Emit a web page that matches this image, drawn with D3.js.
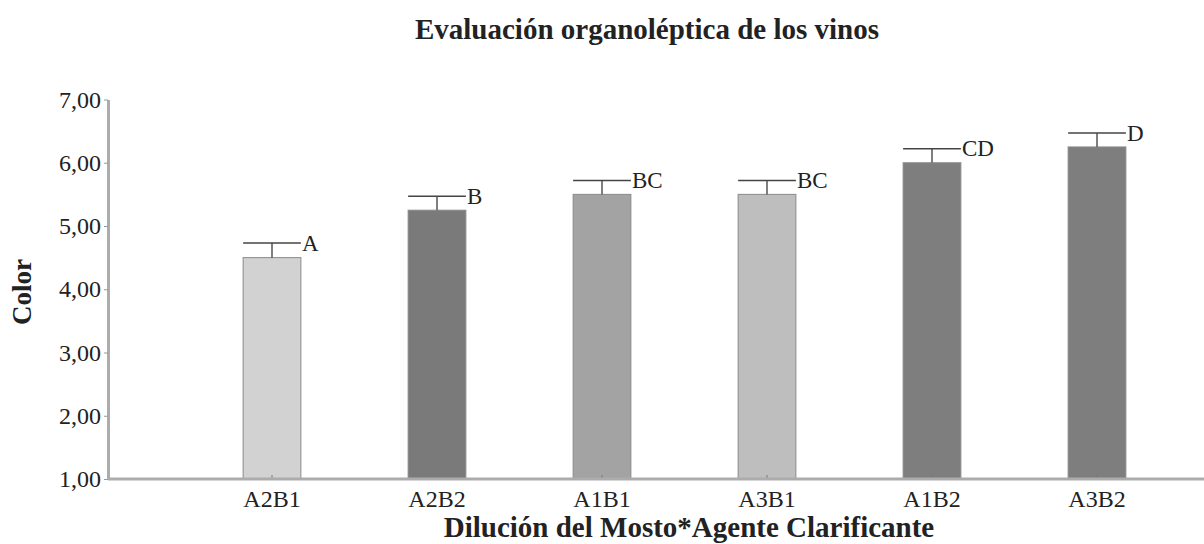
<!DOCTYPE html>
<html>
<head>
<meta charset="utf-8">
<script src="https://cdn.jsdelivr.net/npm/d3@7"></script>
<style>
  body { margin: 0; background: #fff; }
  text { font-family: "Liberation Serif", "Times New Roman", serif; fill: #222; }
</style>
</head>
<body>
<svg></svg>
<script>
var categories = ['A2B1', 'A2B2', 'A1B1', 'A3B1', 'A1B2', 'A3B2'];
var means = [4.50, 5.25, 5.50, 5.50, 6.00, 6.25];
var errors = [0.23, 0.22, 0.22, 0.22, 0.22, 0.22];
var groups = ['A', 'B', 'BC', 'BC', 'CD', 'D'];
var fills = ['#d2d2d2', '#7a7a7a', '#a3a3a3', '#bebebe', '#7e7e7e', '#7e7e7e'];
var yTicks = [1, 2, 3, 4, 5, 6, 7];

var svgwidth = 1204;
var svgheight = 544;

var svg = d3.select('svg').attr('width', svgwidth).attr('height', svgheight);

var axisLeftX = 108;
var axisBottomY = 479;

var locale = d3.formatLocale({decimal: ',', thousands: '.', grouping: [3], currency: ['', '']});
var fmt = locale.format('.2f');

var xScale = d3.scaleBand()
               .domain(categories)
               .range([189.5, 1179.5])
               .paddingInner(0.65)
               .paddingOuter(0.325);

var yScale = d3.scaleLinear()
               .domain([1, 7])
               .range([axisBottomY, 99.5]);

// title
svg.append('text')
   .attr('x', 647).attr('y', 39)
   .attr('text-anchor', 'middle')
   .style('font-size', '29px').style('font-weight', 'bold')
   .text('Evaluación organoléptica de los vinos');

// bars
var rows = categories.map(function(c, i){
  return {cat: c, mean: means[i], err: errors[i], group: groups[i], fill: fills[i]};
});

var plot = svg.append('g').classed('plot', true);

plot.selectAll('rect')
    .data(rows)
    .enter()
    .append('rect')
    .attr('x', function(d){ return xScale(d.cat); })
    .attr('width', xScale.bandwidth())
    .attr('y', function(d){ return yScale(d.mean); })
    .attr('height', function(d){ return axisBottomY - yScale(d.mean); })
    .attr('fill', function(d){ return d.fill; })
    .attr('stroke', '#8a8a8a')
    .attr('stroke-width', 1);

// error bars
var eb = plot.selectAll('g.err')
    .data(rows)
    .enter()
    .append('g').classed('err', true);

eb.append('line')
  .attr('x1', function(d){ return xScale(d.cat) + xScale.bandwidth()/2; })
  .attr('x2', function(d){ return xScale(d.cat) + xScale.bandwidth()/2; })
  .attr('y1', function(d){ return yScale(d.mean); })
  .attr('y2', function(d){ return yScale(d.mean + d.err); })
  .attr('stroke', '#555').attr('stroke-width', 1.5);

eb.append('line')
  .attr('x1', function(d){ return xScale(d.cat); })
  .attr('x2', function(d){ return xScale(d.cat) + xScale.bandwidth(); })
  .attr('y1', function(d){ return yScale(d.mean + d.err); })
  .attr('y2', function(d){ return yScale(d.mean + d.err); })
  .attr('stroke', '#444').attr('stroke-width', 1.5);

eb.append('text')
  .attr('x', function(d){ return xScale(d.cat) + xScale.bandwidth() + 1; })
  .attr('y', function(d){ return yScale(d.mean + d.err); })
  .attr('dy', '0.33em')
  .style('font-size', '23px')
  .text(function(d){ return d.group; });

// y axis
var yAxis = d3.axisLeft(yScale)
              .tickValues(yTicks)
              .tickFormat(fmt)
              .tickSizeInner(4)
              .tickSizeOuter(0)
              .tickPadding(3);

var yg = svg.append('g').classed('yAxis', true)
   .attr('transform', 'translate(' + axisLeftX + ',0)')
   .call(yAxis);
yg.select('.domain').attr('stroke', '#acacac').attr('stroke-width', 3);
yg.selectAll('.tick line').attr('stroke', '#999');
yg.selectAll('.tick text').style('font-size', '24px').attr('fill', '#333')
  .style('font-family', '"Liberation Serif", serif');

// x axis
var xAxis = d3.axisBottom(xScale)
              .tickSizeInner(-4)
              .tickSizeOuter(0)
              .tickPadding(11);

var xg = svg.append('g').classed('xAxis', true)
   .attr('transform', 'translate(0,' + axisBottomY + ')')
   .call(xAxis);
xg.select('.domain').remove();
xg.append('line')
  .attr('x1', axisLeftX).attr('x2', svgwidth)
  .attr('y1', 0).attr('y2', 0)
  .attr('stroke', '#acacac').attr('stroke-width', 3);
xg.selectAll('.tick line').attr('stroke', '#777');
xg.selectAll('.tick text').style('font-size', '24px').attr('fill', '#333')
  .style('font-family', '"Liberation Serif", serif');

// axis titles
svg.append('text')
   .attr('x', 689).attr('y', 537)
   .attr('text-anchor', 'middle')
   .style('font-size', '29px').style('font-weight', 'bold')
   .text('Dilución del Mosto*Agente Clarificante');

svg.append('text')
   .attr('transform', 'translate(31,292) rotate(-90)')
   .attr('text-anchor', 'middle')
   .style('font-size', '27px').style('font-weight', 'bold')
   .text('Color');
</script>
</body>
</html>
